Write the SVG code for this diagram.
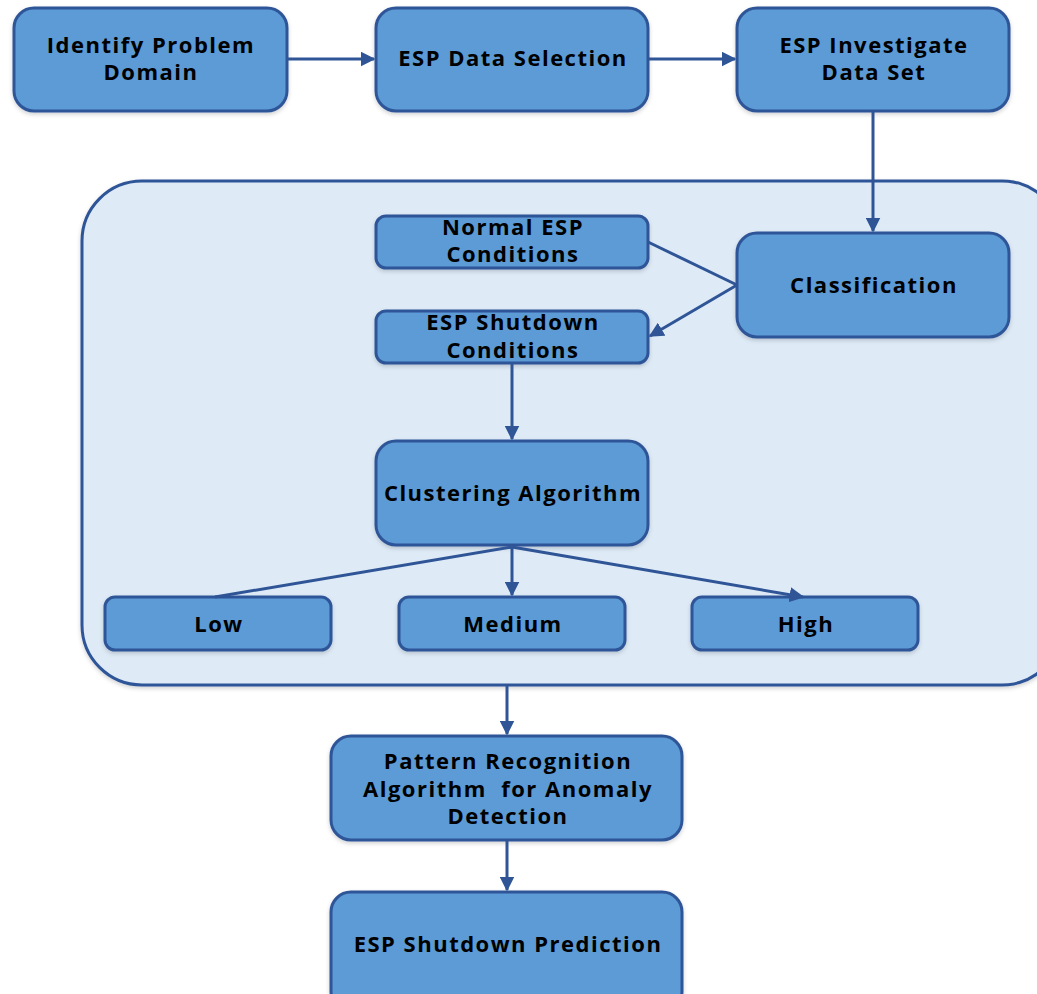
<svg xmlns="http://www.w3.org/2000/svg" width="1037" height="994" viewBox="0 0 1037 994">
  <defs>
    <style>
      .box { fill: #5b9bd5; stroke: #2f5597; stroke-width: 3; }
      .group { fill: #deebf7; stroke: #2f5597; stroke-width: 3; }
      .lbl { font-family: "Open Sans", "Liberation Sans", sans-serif; font-weight: bold; font-size: 22px; letter-spacing: 1.5px; fill: #000; text-anchor: middle; }
      .conn { stroke: #2f5597; stroke-width: 3; fill: none; }
    </style>
    <marker id="arrow" viewBox="0 0 10 10" refX="9" refY="5" markerWidth="5" markerHeight="5" orient="auto" markerUnits="strokeWidth">
      <path d="M0,0 L10,5 L0,10 z" fill="#2f5597"/>
    </marker>
    <filter id="shadow" x="-10%" y="-10%" width="120%" height="130%">
      <feDropShadow dx="0" dy="2" stdDeviation="2" flood-color="#000" flood-opacity="0.18"/>
    </filter>
  </defs>

  <rect width="1037" height="994" fill="#ffffff"/>

  <!-- container for classification and clustering stage -->
  <g id="stage-group">
    <rect class="group" x="82" y="181" width="980" height="504" rx="60" filter="url(#shadow)"/>
  </g>

  <g id="identify-problem-domain">
    <rect class="box" x="14" y="8" width="273" height="103" rx="20" filter="url(#shadow)"/>
    <text class="lbl" x="151" y="53">Identify Problem</text>
    <text class="lbl" x="151" y="80">Domain</text>
  </g>

  <g id="esp-data-selection">
    <rect class="box" x="376" y="8" width="272" height="103" rx="20" filter="url(#shadow)"/>
    <text class="lbl" x="513" y="66">ESP Data Selection</text>
  </g>

  <g id="esp-investigate-data-set">
    <rect class="box" x="737" y="8" width="272" height="103" rx="20" filter="url(#shadow)"/>
    <text class="lbl" x="874" y="53">ESP Investigate</text>
    <text class="lbl" x="874" y="80">Data Set</text>
  </g>

  <g id="normal-esp-conditions">
    <rect class="box" x="376" y="216" width="272" height="52" rx="10" filter="url(#shadow)"/>
    <text class="lbl" x="513" y="235">Normal ESP</text>
    <text class="lbl" x="513" y="262">Conditions</text>
  </g>

  <g id="classification">
    <rect class="box" x="737" y="233" width="272" height="104" rx="20" filter="url(#shadow)"/>
    <text class="lbl" x="874" y="293">Classification</text>
  </g>

  <g id="esp-shutdown-conditions">
    <rect class="box" x="376" y="311" width="272" height="52" rx="10" filter="url(#shadow)"/>
    <text class="lbl" x="513" y="330">ESP Shutdown</text>
    <text class="lbl" x="513" y="358">Conditions</text>
  </g>

  <g id="clustering-algorithm">
    <rect class="box" x="376" y="441" width="272" height="104" rx="20" filter="url(#shadow)"/>
    <text class="lbl" x="513" y="501">Clustering Algorithm</text>
  </g>

  <g id="low">
    <rect class="box" x="105" y="597" width="226" height="53" rx="10" filter="url(#shadow)"/>
    <text class="lbl" x="219" y="632">Low</text>
  </g>

  <g id="medium">
    <rect class="box" x="399" y="597" width="226" height="53" rx="10" filter="url(#shadow)"/>
    <text class="lbl" x="513" y="632">Medium</text>
  </g>

  <g id="high">
    <rect class="box" x="692" y="597" width="226" height="53" rx="10" filter="url(#shadow)"/>
    <text class="lbl" x="806" y="632">High</text>
  </g>

  <g id="pattern-recognition">
    <rect class="box" x="331" y="736" width="351" height="104" rx="20" filter="url(#shadow)"/>
    <text class="lbl" x="508" y="769">Pattern Recognition</text>
    <text class="lbl" x="508" y="797" xml:space="preserve">Algorithm  for Anomaly</text>
    <text class="lbl" x="508" y="824">Detection</text>
  </g>

  <g id="esp-shutdown-prediction">
    <rect class="box" x="331" y="892" width="351" height="120" rx="20" filter="url(#shadow)"/>
    <text class="lbl" x="508" y="952">ESP Shutdown Prediction</text>
  </g>

  <g id="connectors">
    <line class="conn" x1="287" y1="59" x2="374" y2="59" marker-end="url(#arrow)"/>
    <line class="conn" x1="648" y1="59" x2="735" y2="59" marker-end="url(#arrow)"/>
    <line class="conn" x1="873" y1="111" x2="873" y2="231" marker-end="url(#arrow)"/>
    <line class="conn" x1="648" y1="242" x2="737" y2="285"/>
    <line class="conn" x1="737" y1="285" x2="650" y2="336" marker-end="url(#arrow)"/>
    <line class="conn" x1="512" y1="363" x2="512" y2="439" marker-end="url(#arrow)"/>
    <line class="conn" x1="512" y1="547" x2="215" y2="597"/>
    <line class="conn" x1="512" y1="547" x2="512" y2="595" marker-end="url(#arrow)"/>
    <line class="conn" x1="512" y1="547" x2="803" y2="597" marker-end="url(#arrow)"/>
    <line class="conn" x1="507" y1="685" x2="507" y2="734" marker-end="url(#arrow)"/>
    <line class="conn" x1="507" y1="840" x2="507" y2="890" marker-end="url(#arrow)"/>
  </g>
</svg>
